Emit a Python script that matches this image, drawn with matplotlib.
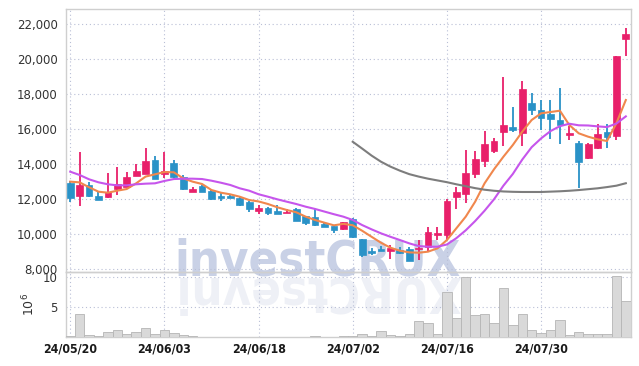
import numpy as np
import pandas as pd
import matplotlib
matplotlib.use("Agg")
import matplotlib.pyplot as plt
from matplotlib import font_manager as fm
from matplotlib.ticker import FuncFormatter

# ---------------- data ----------------
opens = [12950, 12210, 12820, 12190, 12150, 12610, 12720, 13350, 13465, 14247,
         13465, 14059, 13257, 12437, 12762, 12476, 12190, 12210, 12093, 11865,
         11350, 11505, 11350, 11220, 11465, 11047, 10970, 10590, 10458, 10287,
         10857, 9716, 9030, 9145, 9067, 9105, 9145, 9180, 9276, 9960,
         9950, 12150, 12322, 13430, 14208, 14780, 15865, 16115, 15808, 17505,
         17105, 16876, 16533, 15694, 15200, 14345, 14916, 15830, 15637, 21179]
highs = [13070, 14690, 12970, 12400, 13490, 13830, 13545, 14040, 14916, 14460,
         14687, 14230, 13380, 12722, 12800, 12520, 12437, 12303, 12150, 11900,
         11690, 11540, 11676, 11465, 11500, 11060, 11430, 10620, 10470, 10720,
         10950, 9730, 9200, 9333, 9370, 9290, 9293, 9676, 10420, 10400,
         12000, 12722, 14820, 14762, 15922, 15490, 18973, 17259, 18780, 18094,
         17676, 17676, 18344, 16190, 15350, 15200, 16285, 16305, 20200, 21770]
lows = [11850, 11600, 12150, 11980, 12090, 12230, 12700, 13330, 13420, 13150,
        13200, 13230, 12530, 12420, 12420, 11990, 11930, 12080, 11640, 11259,
        11180, 11120, 11160, 11200, 10740, 10550, 10480, 10400, 10093, 10270,
        9810, 8723, 8820, 9020, 8610, 8900, 8450, 8533, 9010, 9700,
        9680, 11430, 11807, 13200, 13865, 14665, 15047, 15847, 15047, 16819,
        15962, 15430, 15145, 15390, 12630, 14300, 14880, 14916, 15390, 20190]
closes = [12080, 12820, 12210, 11990, 12420, 12876, 13260, 13620, 14173, 13180,
          13637, 13257, 12610, 12590, 12437, 12020, 12093, 12093, 11693, 11447,
          11505, 11220, 11180, 11293, 10762, 10665, 10530, 10420, 10248, 10687,
          9830, 8820, 8950, 9030, 9220, 8914, 8494, 9237, 10150, 10058,
          11880, 12420, 13505, 14305, 15162, 15333, 16247, 15962, 18305, 17105,
          16665, 16590, 16247, 15773, 14150, 15145, 15716, 15545, 20190, 21447]
volumes_m = [0.10, 3.86, 0.28, 0.10, 0.80, 1.14, 0.45, 0.80, 1.48, 0.45,
             1.14, 0.62, 0.28, 0.10, 0.08, 0.06, 0.07, 0.06, 0.08, 0.07,
             0.07, 0.06, 0.07, 0.06, 0.08, 0.05, 0.18, 0.05, 0.06, 0.10,
             0.17, 0.57, 0.11, 0.92, 0.29, 0.11, 0.46, 2.59, 2.30, 0.57,
             7.47, 3.16, 9.89, 3.68, 3.85, 2.30, 8.16, 1.95, 3.85, 1.09,
             0.69, 1.09, 2.82, 0.40, 0.75, 0.57, 0.46, 0.57, 10.06, 5.92]
ma5 = [13010, 12970, 12690, 12437, 12380, 12495, 12590, 12915, 13300, 13430,
       13560, 13545, 13200, 13010, 12876, 12533, 12380, 12285, 12150, 11960,
       11880, 11733, 11545, 11390, 11260, 11010, 10820, 10665, 10515, 10600,
       10520, 10205, 9860, 9520, 9237, 9065, 8970, 8950, 9010, 9200,
       9676, 10343, 11010, 11865, 12915, 13715, 14435, 15105, 15865, 16533,
       16915, 16990, 17065, 16247, 15773, 15580, 15430, 15333, 16350, 17676]
ma10 = [13580, 13390, 13145, 12973, 12860, 12800, 12800, 12860, 12895, 12915,
        13050, 13160, 13180, 13180, 13160, 13065, 12950, 12820, 12630, 12495,
        12290, 12150, 12000, 11865, 11733, 11580, 11450, 11300, 11150, 11010,
        10820, 10530, 10285, 10057, 9860, 9676, 9485, 9330, 9293, 9293,
        9420, 9780, 10230, 10760, 11350, 12000, 12780, 13450, 14270, 14980,
        15480, 15900, 16180, 16320, 16230, 16220, 16170, 16130, 16330, 16740]
ma60 = [15290, 14900, 14500, 14150, 13870, 13640, 13440, 13300, 13180, 13080,
        12980, 12860, 12750, 12640, 12550, 12490, 12450, 12430, 12420, 12420,
        12420, 12440, 12460, 12490, 12530, 12580, 12630, 12700, 12780, 12920]
price_ticks = [8000, 10000, 12000, 14000, 16000, 18000, 20000, 22000]
volume_ticks = [5, 10]
watermark = "investCRUX"

# trading days (Korean market, 6/6 holiday)
days = pd.bdate_range("2024-05-20", periods=61)
days = days[days != pd.Timestamp("2024-06-06")][:60]
date_labels = [d.strftime("%y/%m/%d") for d in days]

# ---------------- fonts ----------------
cond_path = fm.findfont(fm.FontProperties(family="DejaVu Sans", weight="bold", stretch="condensed"))
has_cond = "condensed" in cond_path.lower()
stretch = "condensed" if has_cond else "normal"
wm_size = 35 if has_cond else 32
date_size = 8.8 if has_cond else 8.0

UP = "#e8206a"
DOWN = "#2a92c7"

x = np.arange(len(closes))
fig = plt.figure(figsize=(6.39, 3.66), dpi=100)
fig.patch.set_facecolor("white")
L, R = 66 / 639, 631 / 639
ax = fig.add_axes([L, 1 - 272 / 366, R - L, (272 - 9) / 366])
axv = fig.add_axes([L, 1 - 337 / 366, R - L, (337 - 272) / 366], sharex=ax)
axv.patch.set_alpha(0)

# watermark (behind marks)
ax.text(0.497, 0.248, watermark, transform=fig.transFigure, ha="center", va="baseline",
        fontsize=wm_size, fontweight="bold", fontstretch=stretch, family="DejaVu Sans",
        color="#c9d1e6", zorder=0.5, clip_on=False)
axv.text(0.497, 0.244, watermark[::-1], transform=fig.transFigure, ha="center", va="baseline",
         rotation=180, rotation_mode="anchor",
         fontsize=wm_size, fontweight="bold", fontstretch=stretch, family="DejaVu Sans",
         color="#eef0f6", zorder=0.5, clip_on=True)

o = np.array(opens); c = np.array(closes); h = np.array(highs); lo = np.array(lows)
cols = [UP if cc >= oo else DOWN for oo, cc in zip(o, c)]
ax.vlines(x, lo, h, colors=cols, linewidth=1.3, zorder=3)
ax.bar(x, np.maximum(np.abs(c - o), 40), bottom=np.minimum(o, c), width=0.72,
       color=cols, edgecolor=cols, linewidth=0.5, zorder=4)

ax.plot(x, ma5, color="#f0874d", lw=1.5, zorder=5)
ax.plot(x, ma10, color="#c655ec", lw=1.5, zorder=5)
ax.plot(np.arange(len(closes) - len(ma60), len(closes)), ma60, color="#7d7d7d", lw=1.5, zorder=5)

ax.set_xlim(-0.45, 59.55)
ax.set_ylim(7848, 22876)
ax.set_yticks(price_ticks)
ax.yaxis.set_major_formatter(FuncFormatter(lambda v, p: f"{v:,.0f}"))
tick_pos = x[::10]
ax.set_xticks(tick_pos)
ax.tick_params(axis="x", labelbottom=False, length=0)
ax.tick_params(axis="y", length=0, pad=6, labelsize=8.5, labelcolor="#333333")
grid_kw = dict(linestyle=(0, (1, 2.5)), color="#b9bfd6", linewidth=0.8)
ax.grid(True, **grid_kw)
ax.set_axisbelow(True)

axv.bar(x, volumes_m, width=1.0, color="#d9d9d9", edgecolor="#b5b5b5", linewidth=0.6, zorder=3)
axv.set_ylim(0, 10.75)
axv.set_yticks(volume_ticks)
axv.set_xticks(tick_pos)
axv.set_xticklabels([date_labels[i] for i in tick_pos], fontsize=date_size, fontweight="bold",
                    fontstretch=stretch, family="DejaVu Sans", color="#1a1a1a")
axv.tick_params(axis="x", length=0, pad=4)
axv.tick_params(axis="y", length=0, pad=6, labelsize=8.5, labelcolor="#333333")
axv.set_ylabel(r"$10^6$", fontsize=9, color="#333333", labelpad=4)
axv.grid(True, **grid_kw)
axv.set_axisbelow(True)

for a in (ax, axv):
    for s in a.spines.values():
        s.set_color("#cfcfcf")
        s.set_linewidth(1.0)

fig.savefig("out.png", dpi=100, facecolor="white")
